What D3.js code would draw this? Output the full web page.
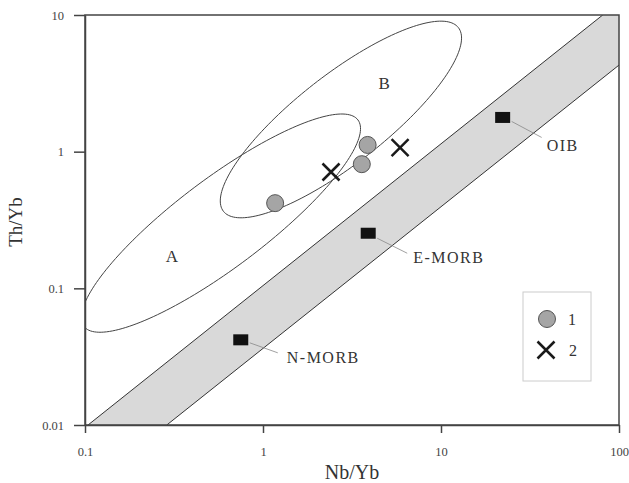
<!DOCTYPE html>
<html>
<head>
<meta charset="utf-8">
<script src="https://cdn.jsdelivr.net/npm/d3@7"></script>
<style>
  body { margin: 0; background: #fff; }
  svg { display: block; font-family: "Liberation Serif", "DejaVu Serif", serif; }
</style>
</head>
<body>
<div id="chart"></div>
<script>
// Data
const xTicks = [0.1, 1, 10, 100];
const yTicks = [0.01, 0.1, 1, 10];

// group 1 (circles) and group 2 (crosses): [Nb/Yb, Th/Yb]
const group1 = [[1.17, 0.42], [3.87, 1.12], [3.59, 0.81]];
const group2 = [[2.41, 0.71], [5.89, 1.07]];

// reference compositions
const refNames = ["N-MORB", "E-MORB", "OIB"];
const refNb = [0.75, 3.9, 22.2];
const refTh = [0.042, 0.253, 1.78];

// mantle array band edges
const bandUpper = [[0.104, 0.01], [81, 10]];
const bandLower = [[0.288, 0.01], [100, 4.3]];

// fields, in log10 units: centre, semi-axis u, semi-axis v
const fieldNames = ["A", "B"];
const fieldCentres = [[0.58, 0.30], [2.74, 1.72]];
const fieldU = [[0.77, 0.755], [0.66, 0.672]];
const fieldV = [[0.15, -0.26], [0.154, -0.257]];
const fieldLabelPos = [[0.308, 0.17], [4.79, 3.13]];

const width = 629;
const height = 483;
const margin = { top: 15, right: 10, bottom: 58, left: 85 };

const svg = d3.select("#chart")
    .append("svg")
    .attr("width", width)
    .attr("height", height);

const x = d3.scaleLog()
    .domain([0.1, 100])
    .range([margin.left, width - margin.right]);

const y = d3.scaleLog()
    .domain([0.01, 10])
    .range([height - margin.bottom, margin.top]);

svg.append("clipPath")
    .attr("id", "plot-clip")
    .append("rect")
    .attr("x", x(0.1))
    .attr("y", y(10))
    .attr("width", x(100) - x(0.1))
    .attr("height", y(0.01) - y(10));

const plot = svg.append("g").attr("clip-path", "url(#plot-clip)");

// Band (mantle array)
const bandPoly = [bandUpper[0], bandUpper[1], [100, 10], bandLower[1], bandLower[0]];
plot.append("path")
    .attr("d", d3.line().x(d => x(d[0])).y(d => y(d[1]))(bandPoly) + "Z")
    .attr("fill", "#d9d9d9")
    .attr("stroke", "none");

[bandUpper, bandLower].forEach(edge => {
    plot.append("line")
        .attr("x1", x(edge[0][0]))
        .attr("y1", y(edge[0][1]))
        .attr("x2", x(edge[1][0]))
        .attr("y2", y(edge[1][1]))
        .attr("stroke", "#333")
        .attr("stroke-width", 1);
});

// Fields A and B (ellipses in log space)
const ellipseLine = d3.line()
    .x(d => x(Math.pow(10, d[0])))
    .y(d => y(Math.pow(10, d[1])))
    .curve(d3.curveLinearClosed);

fieldNames.forEach((name, i) => {
    const c = fieldCentres[i];
    const cx = Math.log10(c[0]), cy = Math.log10(c[1]);
    const pts = d3.range(0, 2 * Math.PI, Math.PI / 90).map(t => [
        cx + fieldU[i][0] * Math.cos(t) + fieldV[i][0] * Math.sin(t),
        cy + fieldU[i][1] * Math.cos(t) + fieldV[i][1] * Math.sin(t)
    ]);
    plot.append("path")
        .attr("d", ellipseLine(pts))
        .attr("fill", "none")
        .attr("stroke", "#444")
        .attr("stroke-width", 1);

    svg.append("text")
        .attr("x", x(fieldLabelPos[i][0]))
        .attr("y", y(fieldLabelPos[i][1]))
        .attr("text-anchor", "middle")
        .attr("dominant-baseline", "central")
        .style("font-size", "17px")
        .style("fill", "#333")
        .text(name);
});

// Reference points with leader lines
const refOffsets = {
    "N-MORB": { l1: [9, 3], l2: [37, 13], t: [46, 23] },
    "E-MORB": { l1: [9, 5], l2: [39, 20], t: [45, 30] },
    "OIB": { l1: [9, 4], l2: [39, 20], t: [44, 34] }
};

refNames.forEach((name, i) => {
    const px = x(refNb[i]), py = y(refTh[i]);
    const o = refOffsets[name];
    svg.append("line")
        .attr("x1", px + o.l1[0]).attr("y1", py + o.l1[1])
        .attr("x2", px + o.l2[0]).attr("y2", py + o.l2[1])
        .attr("stroke", "#888")
        .attr("stroke-width", 0.8);
    svg.append("rect")
        .attr("x", px - 7.5)
        .attr("y", py - 5.5)
        .attr("width", 15)
        .attr("height", 11)
        .attr("fill", "#111");
    svg.append("text")
        .attr("x", px + o.t[0])
        .attr("y", py + o.t[1])
        .style("font-size", "16px")
        .style("letter-spacing", "1.5px")
        .style("fill", "#333")
        .text(name);
});

// Group 1 circles
svg.selectAll(".g1")
    .data(group1)
    .enter()
    .append("circle")
    .attr("class", "g1")
    .attr("cx", d => x(d[0]))
    .attr("cy", d => y(d[1]))
    .attr("r", 8.5)
    .attr("fill", "#a5a5a5")
    .attr("stroke", "#555")
    .attr("stroke-width", 1);

// Group 2 crosses
const crossPath = (cx, cy, s) =>
    `M${cx - s},${cy - s}L${cx + s},${cy + s}M${cx - s},${cy + s}L${cx + s},${cy - s}`;

svg.selectAll(".g2")
    .data(group2)
    .enter()
    .append("path")
    .attr("class", "g2")
    .attr("d", d => crossPath(x(d[0]), y(d[1]), 8.5))
    .attr("stroke", "#1a1a1a")
    .attr("stroke-width", 2.5)
    .attr("fill", "none");

// Axes
const xAxis = svg.append("g")
    .attr("transform", `translate(0,${y(0.01)})`)
    .call(d3.axisBottom(x).tickValues(xTicks).tickFormat(d3.format("~g"))
        .tickSize(8).tickSizeOuter(0).tickPadding(14));

const yAxis = svg.append("g")
    .attr("transform", `translate(${x(0.1)},0)`)
    .call(d3.axisLeft(y).tickValues(yTicks).tickFormat(d3.format("~g"))
        .tickSize(11).tickSizeOuter(0).tickPadding(10));

[xAxis, yAxis].forEach(a => {
    a.selectAll("path, line").attr("stroke", "#444").attr("stroke-width", 1.5);
    a.selectAll("text")
        .style("font-family", "'Liberation Serif', serif")
        .style("font-size", "12.5px")
        .style("fill", "#444");
});

// frame
svg.append("rect")
    .attr("x", x(0.1))
    .attr("y", y(10))
    .attr("width", x(100) - x(0.1))
    .attr("height", y(0.01) - y(10))
    .attr("fill", "none")
    .attr("stroke", "#444")
    .attr("stroke-width", 1.5);

// Axis titles
svg.append("text")
    .attr("x", (x(0.1) + x(100)) / 2)
    .attr("y", 479)
    .attr("text-anchor", "middle")
    .style("font-size", "20px")
    .style("fill", "#333")
    .text("Nb/Yb");

svg.append("text")
    .attr("transform", `translate(22,${(y(0.01) + y(10)) / 2 + 2}) rotate(-90)`)
    .attr("text-anchor", "middle")
    .style("font-size", "19px")
    .style("fill", "#333")
    .text("Th/Yb");

// Legend
const legend = svg.append("g").attr("transform", "translate(523,292)");
legend.append("rect")
    .attr("width", 68)
    .attr("height", 89)
    .attr("fill", "#fff")
    .attr("stroke", "#ccc")
    .attr("stroke-width", 1);
legend.append("circle")
    .attr("cx", 24).attr("cy", 27).attr("r", 8.5)
    .attr("fill", "#a5a5a5").attr("stroke", "#555");
legend.append("text")
    .attr("x", 45).attr("y", 33)
    .style("font-size", "16px").style("fill", "#333")
    .text("1");
legend.append("path")
    .attr("d", crossPath(23, 58, 8.5))
    .attr("stroke", "#1a1a1a").attr("stroke-width", 2.5);
legend.append("text")
    .attr("x", 46).attr("y", 64)
    .style("font-size", "16px").style("fill", "#333")
    .text("2");
</script>
</body>
</html>
